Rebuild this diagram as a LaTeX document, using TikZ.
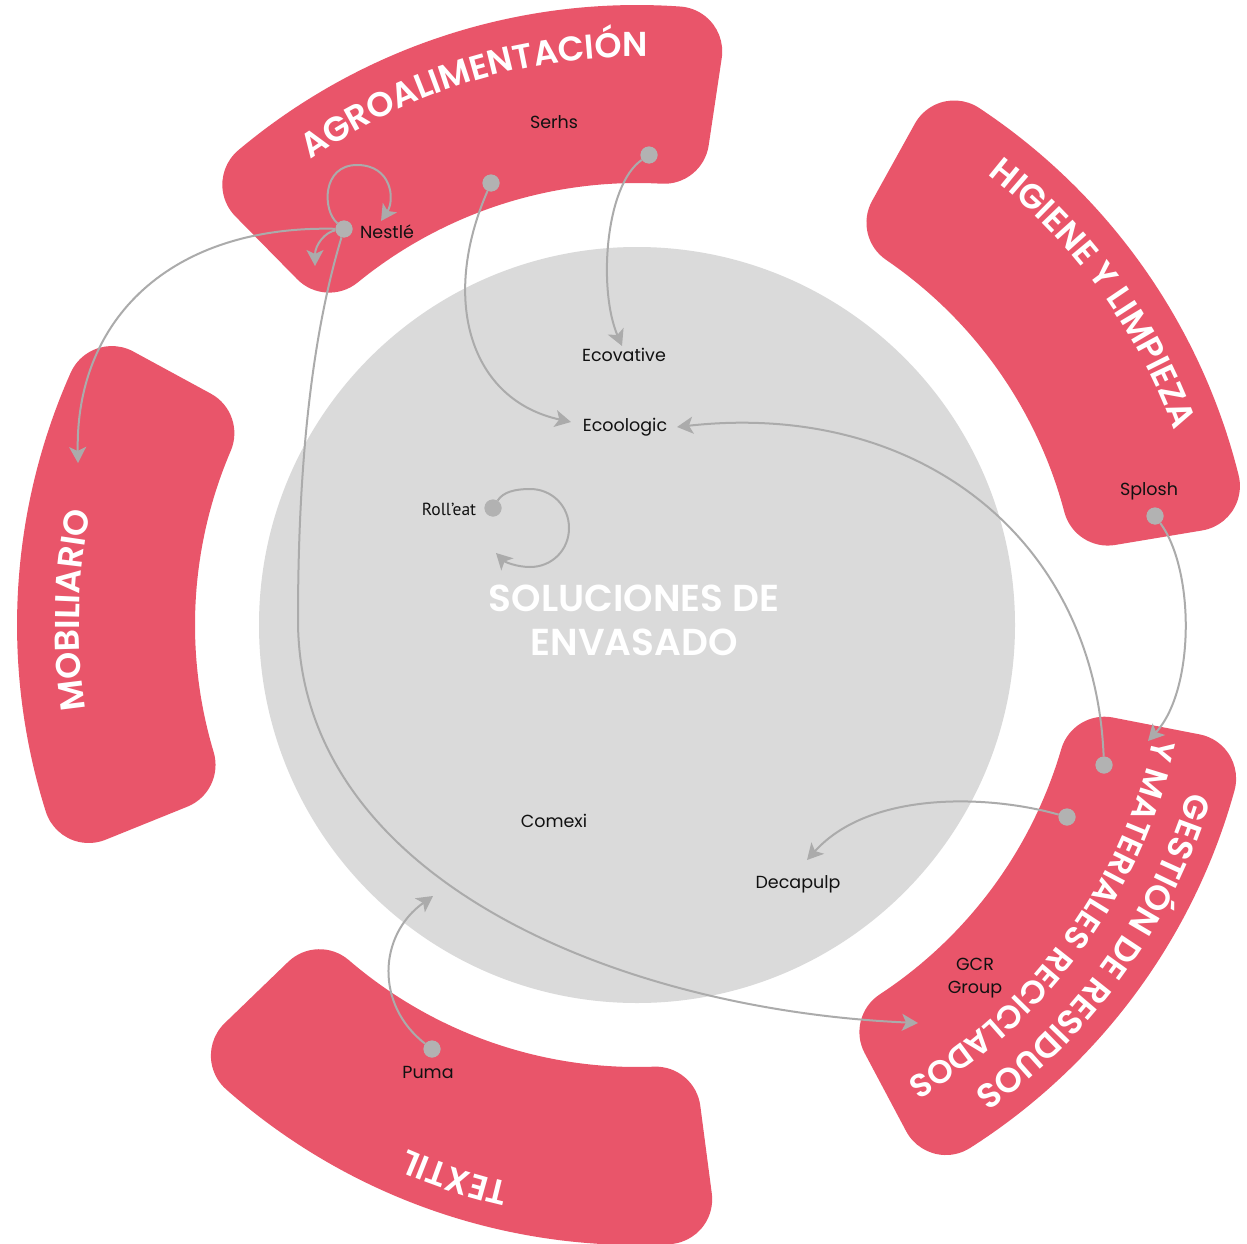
\documentclass[tikz,border=0pt]{standalone}
\usepackage{fontspec}
\setmainfont{Poppins}
\newfontfamily\ttlfam{Poppins SemiBold}
\newfontfamily\rollfont{PT Sans}
\usetikzlibrary{arrows.meta,decorations.text}
\definecolor{redseg}{HTML}{E9556A}
\definecolor{circg}{HTML}{DADADA}
\definecolor{linkg}{HTML}{ABABAB}
\definecolor{dotg}{HTML}{B2B2B2}
\definecolor{labk}{HTML}{111111}
% rounded annular sector: inner radius 442, outer 620, corner radius 45
\newcommand\redsector[2]{%
  \pgfmathsetmacro\sA{#1}\pgfmathsetmacro\sB{#2}%
  \fill[redseg] (\sA:573.24pt)
    arc[start angle=\sA-90, end angle=\sA+4.489, radius=45pt]
    arc[start angle=\sA+4.489, end angle=\sB-4.489, radius=620pt]
    arc[start angle=\sB-4.489, end angle=\sB+90, radius=45pt]
    -- (\sB:484.92pt)
    arc[start angle=\sB+90, end angle=\sB+174.698, radius=45pt]
    arc[start angle=\sB-5.302, end angle=\sA+5.302, radius=442pt]
    arc[start angle=\sA+185.302, end angle=\sA+270, radius=45pt]
    -- cycle;}
% curved title: [font size] center angle, baseline radius, text
\newcommand\curvedtitle[4][34.5]{%
  \pgfmathsetmacro\cS{#2+40}\pgfmathsetmacro\cE{#2-40}%
  \path[decorate, decoration={text along path, text align=center,
      text color=white, text={|\ttlfam\fontsize{#1}{#1}\selectfont|#4}}]
    (\cS:#3pt) arc[start angle=\cS, end angle=\cE, radius=#3pt];}
\begin{document}
\begin{tikzpicture}[x=1pt,y=-1pt,
  dotn/.style={circle, fill=dotg, minimum size=17pt, inner sep=0pt},
  lab/.style={font=\fontsize{17.5}{23}\selectfont, text=labk, inner sep=0pt, align=center},
  link/.style={draw=linkg, line width=2pt,
    -{Stealth[length=16pt, width=17pt, inset=4pt]}},
  coretitle/.style={font=\ttlfam\fontsize{37.5}{44}\selectfont, text=white, align=center}]
\useasboundingbox (0,0) rectangle (1247,1244);
\fill[white] (0,0) rectangle (1247,1244);
\node[circle, fill=circg, minimum size=756pt, inner sep=0pt] (core) at (637,625) {};
\begin{scope}[shift={(637,625)}]
  \redsector{9.5}{61}
  \redsector{81.5}{134.5}
  \redsector{151.5}{202}
  \redsector{224}{277.5}
  \redsector{298}{349}
  \curvedtitle{107}{568}{AGROALIMENTACIÓN}
  \curvedtitle{36}{571}{HIGIENE Y LIMPIEZA}
  \curvedtitle{178.5}{558}{MOBILIARIO}
  \curvedtitle{251.8}{572}{TEXTIL}
  \curvedtitle{-35.5}{576}{GESTIÓN DE RESIDUOS}
  \curvedtitle[32.5]{-35.9}{529}{Y MATERIALES RECICLADOS}
\end{scope}
\node[coretitle] (coreT) at (634,620) {SOLUCIONES DE\\ENVASADO};
% labels
\node[lab] (serhs) at (554,122) {Serhs};
\node[lab] (nestle) at (387,232) {Nestlé};
\node[lab] (ecovative) at (624,355) {Ecovative};
\node[lab] (ecoologic) at (625,427) {Ecoologic};
\node[lab, font=\rollfont\fontsize{17.5}{20}\selectfont] (rolleat) at (449,509) {Roll’eat};
\node[lab] (splosh) at (1149,491) {Splosh};
\node[lab] (comexi) at (554,821) {Comexi};
\node[lab] (decapulp) at (798,884) {Decapulp};
\node[lab] (gcr) at (975,978) {GCR\\Group};
\node[lab] (puma) at (428,1072) {Puma};
% dots
\node[dotn] (dNestle) at (344,229) {};
\node[dotn] (dSerhsA) at (491,183) {};
\node[dotn] (dSerhsB) at (649,155) {};
\node[dotn] (dRoll) at (493,508) {};
\node[dotn] (dSplosh) at (1155,516) {};
\node[dotn] (dGestA) at (1104,765) {};
\node[dotn] (dGestB) at (1067,817) {};
\node[dotn] (dPuma) at (432,1049) {};
% arrow ends
\coordinate (tMob) at (78,463);
\coordinate (tGcr) at (918,1023);
\coordinate (tLoopN) at (381,221);
\coordinate (tSmallN) at (315,266);
\coordinate (tEcoolA) at (571,422);
\coordinate (tEcov) at (622,346);
\coordinate (tEcoolB) at (677,427);
\coordinate (tGest) at (1148,741);
\coordinate (tDeca) at (807,860);
\coordinate (tRoll) at (496,553);
\coordinate (tPuma) at (433,896);
% connectors
\draw[link] (dNestle) .. controls (170,225) and (75,320) .. (tMob);
\draw[link] (dNestle) .. controls (309,345) and (298,480) .. (298,620)
   .. controls (298,880) and (620,1010) .. (tGcr);
\draw[link] (dNestle) .. controls (322,210) and (322,165) .. (357,165)
   .. controls (392,165) and (395,200) .. (tLoopN);
\draw[link] (dNestle) .. controls (325,232) and (315,245) .. (tSmallN);
\draw[link] (dSerhsA) .. controls (440,300) and (470,400) .. (tEcoolA);
\draw[link] (dSerhsB) .. controls (605,185) and (598,290) .. (tEcov);
\draw[link] (dGestA) .. controls (1095,540) and (920,400) .. (tEcoolB);
\draw[link] (dSplosh) .. controls (1195,570) and (1195,690) .. (tGest);
\draw[link] (dGestB) .. controls (990,795) and (870,790) .. (tDeca);
\draw[link] (dRoll) .. controls (503,492) and (515,489) .. (530,489)
   .. controls (552,489) and (569,506) .. (569,528)
   .. controls (569,550) and (552,567) .. (530,567)
   .. controls (517,567) and (505,562) .. (tRoll);
\draw[link] (dPuma) .. controls (375,1005) and (378,935) .. (tPuma);
% redraw dots on top of the connectors
\foreach \d in {dNestle,dSerhsA,dSerhsB,dRoll,dSplosh,dGestA,dGestB,dPuma}
  \fill[dotg] (\d) circle[radius=8.5pt];
\end{tikzpicture}
\end{document}
